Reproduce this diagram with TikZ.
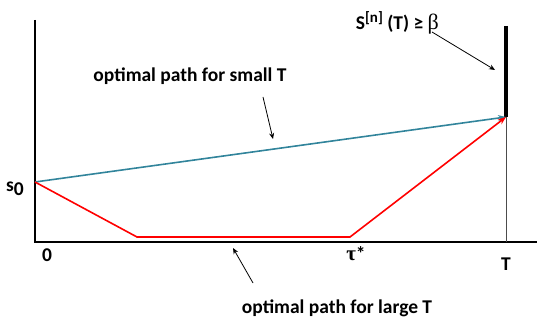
\documentclass[tikz,border=0pt]{standalone}
\usepackage{fontspec}
\setmainfont{Carlito}
\newfontfamily\greekfont{Liberation Serif}
\usetikzlibrary{arrows.meta}

\definecolor{pathblue}{RGB}{49,132,155}
\definecolor{pathred}{RGB}{255,0,0}

\tikzset{
  lbl/.style={font=\bfseries\fontsize{19.5}{22}\selectfont, inner sep=0pt},
  pointer/.style={->, >={Stealth[length=6pt, width=5pt]}, line width=0.8pt},
  axis/.style={line width=1.6pt},
}

\begin{document}
\begin{tikzpicture}[x=1pt, y=-1pt]
    \useasboundingbox (0,0) rectangle (537,320);

    % 坐标轴
    \coordinate (top) at (35,20);
    \coordinate (origin) at (35,242);
    \coordinate (xend) at (537,242);
    \draw[axis] (top) -- (origin) -- (xend);

    % 路径上的点
    \coordinate (s0) at (35,182);
    \coordinate (end) at (506,117);
    \coordinate (foot) at (506,242);
    \coordinate (bartop) at (506,26);
    \coordinate (low1) at (137,237);
    \coordinate (low2) at (350,237);

    % 竖直细线与粗线段
    \draw[line width=0.6pt, black!70] (end) -- (foot);
    \draw[line width=4pt] (bartop) -- (end);

    % 两条最优路径
    \draw[pathblue, line width=1.6pt, -{Stealth[length=8pt, width=6pt]}] (s0) -- (end);
    \draw[pathred, line width=1.6pt, -{Stealth[length=8pt, width=6pt]}] (s0) -- (low1) -- (low2) -- (end);

    % 文字标签
    \node[lbl] (s0lbl) at (15,189) {s\raisebox{-4pt}{0}};
    \node[lbl] (zero) at (47,255) {0};
    \node[lbl] (tau) at (356,254) {{\greekfont\fontsize{21}{22}\selectfont τ}*};
    \node[lbl] (T) at (506,264) {T};
    \node[lbl, anchor=east] (bound) at (439,23) {S\raisebox{7pt}{\fontsize{15}{16}\selectfont [n]} (T) ≥ {\greekfont\mdseries\fontsize{22}{22}\selectfont β}};
    \node[lbl] (small) at (190,76) {optimal path for small T};
    \node[lbl] (large) at (337,308) {optimal path for large T};

    % 指示箭头
    \coordinate (bsrc) at (432,32);
    \coordinate (bdst) at (495,70);
    \draw[pointer] (bsrc) -- (bdst);
    \coordinate (ssrc) at (263,97);
    \coordinate (sdst) at (273,139);
    \draw[pointer] (ssrc) -- (sdst);
    \coordinate (lsrc) at (253,283);
    \coordinate (ldst) at (233,248);
    \draw[pointer] (lsrc) -- (ldst);
\end{tikzpicture}
\end{document}
